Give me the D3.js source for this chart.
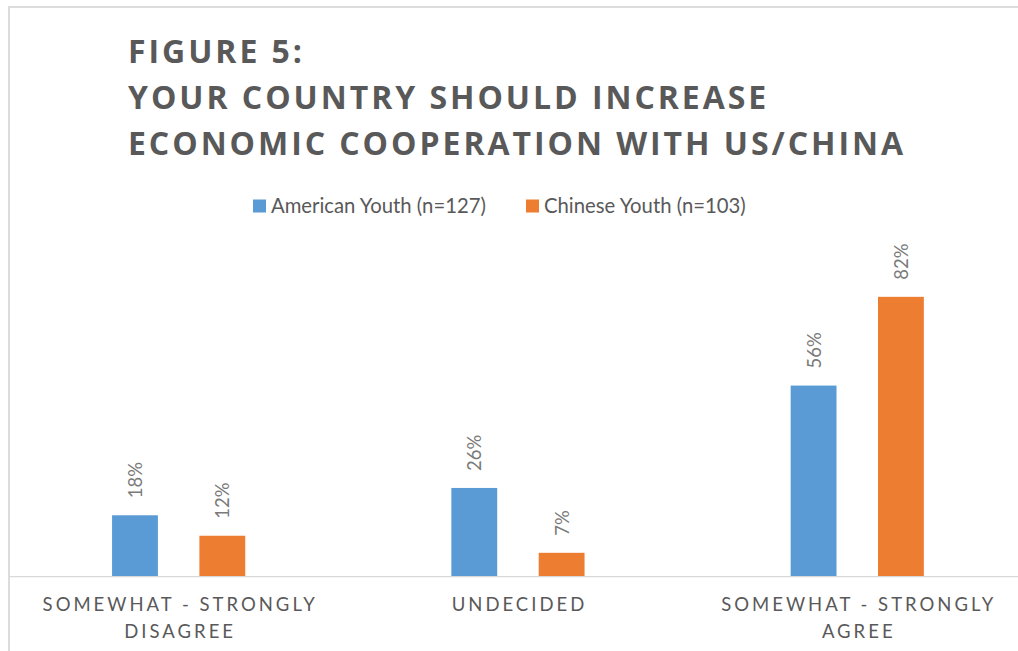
<!DOCTYPE html>
<html>
<head>
<meta charset="utf-8">
<script src="https://cdn.jsdelivr.net/npm/d3@7"></script>
<style>
  html, body { margin: 0; padding: 0; background: #fff; }
  svg { display: block; }
</style>
</head>
<body>
<svg id="chart" width="1018" height="651"></svg>
<script>
// Survey responses, share of respondents per answer
const categories = [["SOMEWHAT - STRONGLY", "DISAGREE"], ["UNDECIDED"], ["SOMEWHAT - STRONGLY", "AGREE"]];
const seriesNames = ["American Youth (n=127)", "Chinese Youth (n=103)"];
const americanValues = [0.18, 0.26, 0.56];
const chineseValues = [0.12, 0.07, 0.82];
const titleLines = ["FIGURE 5:", "YOUR COUNTRY SHOULD INCREASE", "ECONOMIC COOPERATION WITH US/CHINA"];

const colors = ["#5B9BD5", "#ED7D31"];
const svg = d3.select("#chart");
const W = 1018, H = 651;

// outer frame of the chart area (runs off the right and bottom edges)
svg.append("rect")
  .attr("x", 9).attr("y", 7).attr("width", W + 20).attr("height", H + 20)
  .attr("fill", "#fff").attr("stroke", "#d9d9d9").attr("stroke-width", 1.8);

// title
const title = svg.append("g");
titleLines.forEach((t, i) => {
  title.append("text")
    .attr("x", 128).attr("y", 63 + i * 46)
    .attr("font-family", "'Open Sans', sans-serif")
    .attr("font-weight", 700)
    .attr("font-size", 32)
    .attr("letter-spacing", 2.95)
    .attr("fill", "#595959")
    .text(t);
});

// legend
const legendItems = [{x: 253, name: seriesNames[0], c: colors[0]}, {x: 526, name: seriesNames[1], c: colors[1]}];
legendItems.forEach(d => {
  svg.append("rect").attr("x", d.x).attr("y", 199.5).attr("width", 13).attr("height", 13).attr("fill", d.c);
  svg.append("text")
    .attr("x", d.x + 18).attr("y", 212.5)
    .attr("font-family", "Lato, sans-serif")
    .attr("font-size", 20.3)
    .attr("fill", "#595959")
    .text(d.name);
});

// scales
const plotLeft = 9, plotRight = 9 + 339.3 * 3, baseY = 576.7;
const x0 = d3.scaleBand().domain(d3.range(categories.length)).range([plotLeft, plotRight]).paddingInner(0).paddingOuter(0);
const x1 = d3.scaleBand().domain([0, 1]).range([0, x0.bandwidth()]).paddingInner(0.475).paddingOuter(1.18);
const y = d3.scaleLinear().domain([0, 0.9]).range([baseY, baseY - 0.9 * 341.3]);

const rows = categories.map((c, i) => ({i, vals: [americanValues[i], chineseValues[i]]}));

const groups = svg.append("g").selectAll("g").data(rows).join("g")
  .attr("transform", d => `translate(${x0(d.i)},0)`);

groups.selectAll("rect").data(d => d.vals.map((v, s) => ({v, s}))).join("rect")
  .attr("x", d => x1(d.s))
  .attr("y", d => y(d.v))
  .attr("width", x1.bandwidth())
  .attr("height", d => baseY - y(d.v))
  .attr("fill", d => colors[d.s]);

// value labels, rotated
const fmt = d3.format(".0%");
groups.selectAll("text.val").data(d => d.vals.map((v, s) => ({v, s}))).join("text")
  .attr("class", "val")
  .attr("transform", d => `translate(${x1(d.s) + x1.bandwidth() / 2 + 7},${y(d.v) - 17}) rotate(-90)`)
  .attr("font-family", "Lato, sans-serif")
  .attr("font-size", 18.5)
  .attr("fill", "#7a7a7a")
  .text(d => fmt(d.v));

// category axis
const axis = svg.append("g").attr("transform", `translate(0,${baseY})`)
  .call(d3.axisBottom(x0).tickSize(0).tickFormat(""));
axis.select(".domain").attr("stroke", "#d9d9d9").attr("stroke-width", 1.3)
  .attr("d", `M${plotLeft},0H${W}`);

const catLabels = svg.append("g").selectAll("text").data(categories.map((c, i) => ({c, i}))).join("text")
  .attr("x", d => x0(d.i) + x0.bandwidth() / 2 + 1.5)
  .attr("y", 611)
  .attr("text-anchor", "middle")
  .attr("font-family", "Lato, sans-serif")
  .attr("font-size", 18.5)
  .attr("letter-spacing", 3.0)
  .attr("fill", "#595959");
catLabels.selectAll("tspan").data(d => d.c).join("tspan")
  .attr("x", function() { return d3.select(this.parentNode).attr("x"); })
  .attr("dy", (d, j) => j === 0 ? 0 : 26.7)
  .text(d => d);
</script>
</body>
</html>
